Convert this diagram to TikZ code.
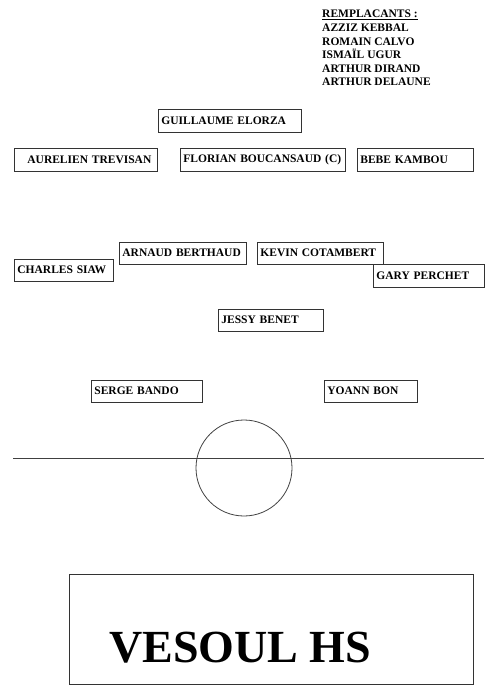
\documentclass[tikz,border=0pt]{standalone}
\usepackage{fontspec}
\setmainfont{Liberation Serif}
\usepackage{tikz}
\usetikzlibrary{positioning}

\begin{document}
\begin{tikzpicture}[
    x=1pt, y=-1pt,
    player/.style={
        rectangle,
        draw=black!80,
        line width=0.8pt,
        anchor=west,
        minimum height=23pt,
        inner xsep=3pt,
        text width=#1,
        align=left,
        font=\fontsize{11.5}{13.5}\selectfont\bfseries
    },
    benchlist/.style={
        anchor=north west,
        inner sep=0pt,
        align=left,
        font=\fontsize{11.5}{13.6}\selectfont\bfseries
    },
    clubbox/.style={
        rectangle,
        draw=black!80,
        line width=0.8pt,
        anchor=north west,
        minimum width=404pt,
        minimum height=110pt
    },
    pitchline/.style={
        draw=black!75,
        line width=0.8pt
    }
]
    \useasboundingbox (0,0) rectangle (496,700);

    % --- SUBSTITUTES (TOP RIGHT) ---
    \node[benchlist] (bench) at (322,10) {\underline{REMPLACANTS :}\\AZZIZ KEBBAL\\ROMAIN CALVO\\ISMAÏL UGUR\\ARTHUR DIRAND\\ARTHUR DELAUNE};

    % --- GOALKEEPER AND DEFENCE ---
    \node[player=137pt] (elorza) at (158,120.5) {GUILLAUME ELORZA};
    \node[player=137pt] (trevisan) at (14,159.5) {\hspace*{10pt}AURELIEN TREVISAN};
    \node[player=159pt] (boucansaud) at (180,159.5) {FLORIAN BOUCANSAUD (C)};
    \node[player=110pt] (kambou) at (357,159.5) {BEBE KAMBOU};

    % --- MIDFIELD ---
    \node[player=121pt, minimum height=22pt] (berthaud) at (119,253) {ARNAUD BERTHAUD};
    \node[player=120pt, minimum height=22pt] (cotambert) at (257,253) {KEVIN COTAMBERT};
    \node[player=93pt, minimum height=22pt] (siaw) at (14,270) {CHARLES SIAW};
    \node[player=105pt] (perchet) at (373,275.5) {GARY PERCHET};
    \node[player=99pt, minimum height=22pt] (benet) at (218,320) {JESSY BENET};

    % --- ATTACK ---
    \node[player=105pt, minimum height=22pt] (bando) at (91,391) {SERGE BANDO};
    \node[player=87pt, minimum height=22pt] (bon) at (324,391) {YOANN BON};

    % --- HALFWAY LINE AND CENTRE CIRCLE ---
    \coordinate (halfleft) at (13,458);
    \coordinate (halfright) at (484,458);
    \coordinate (kickoff) at (244,468);
    \draw[pitchline] (halfleft) -- (halfright);
    \draw[pitchline] (kickoff) circle (48);

    % --- CLUB NAME ---
    \node[clubbox] (club) at (69,574) {};
    \node[anchor=base west, inner sep=0pt, font=\fontsize{46}{50}\selectfont\bfseries] (clubname) at (109,662) {VESOUL HS};

\end{tikzpicture}
\end{document}
